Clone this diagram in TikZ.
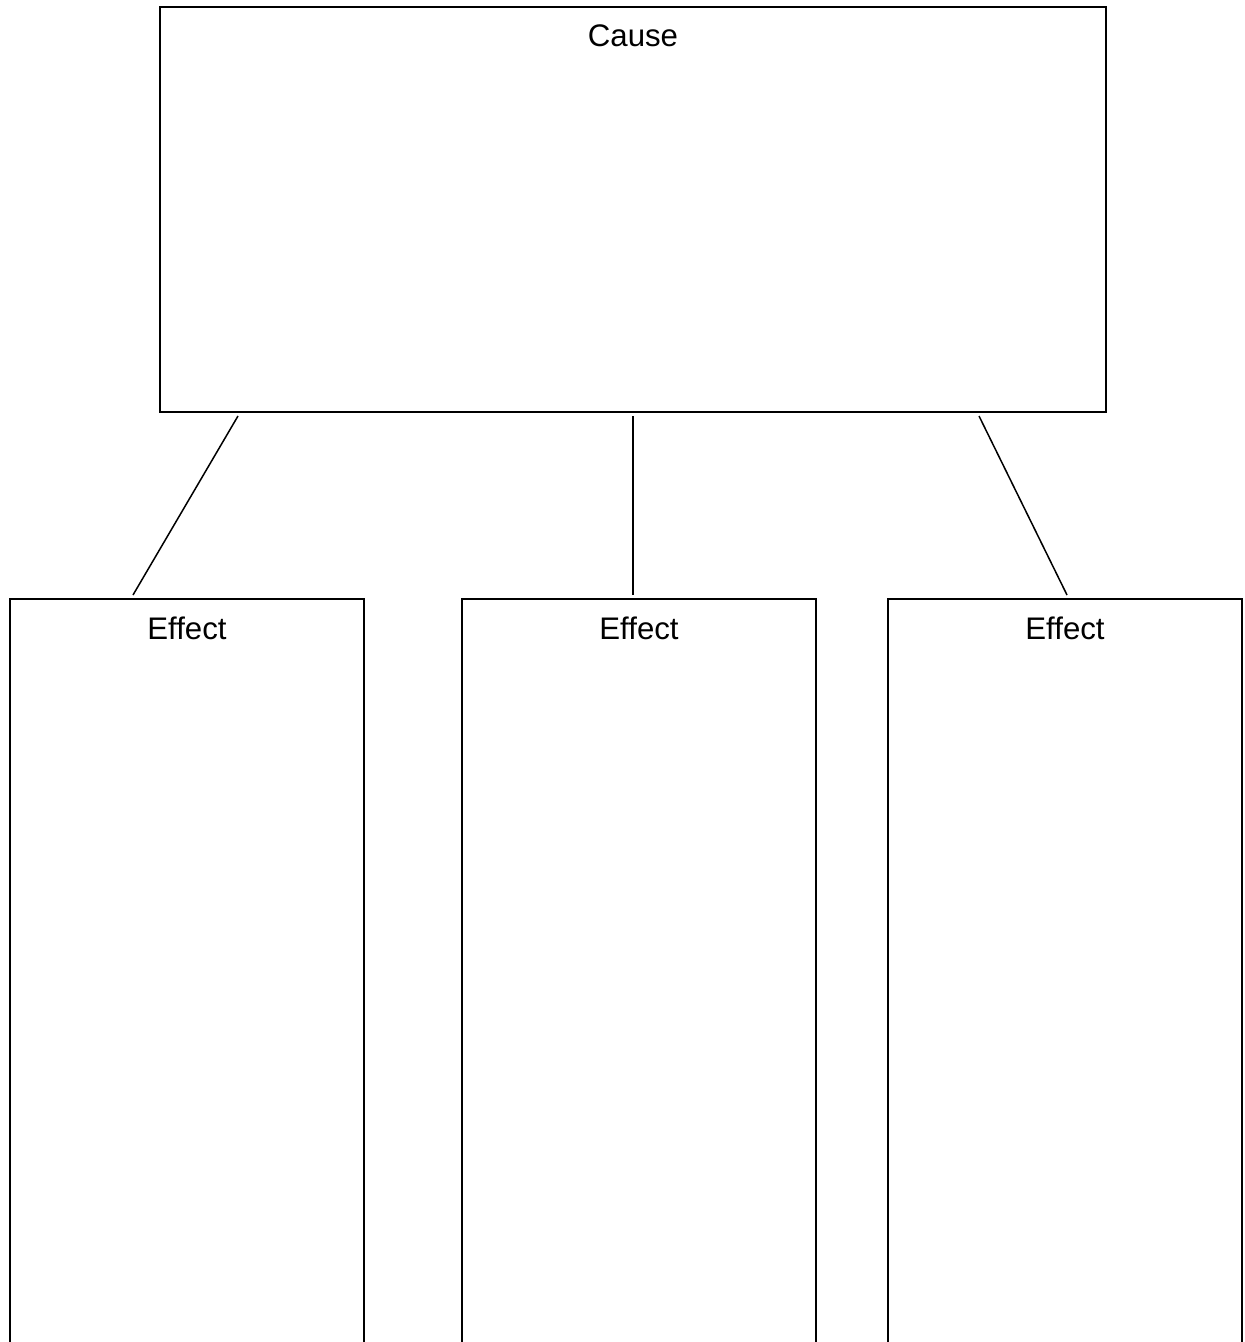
\documentclass[tikz,border=0pt]{standalone}
\usepackage{fontspec}
\setmainfont{Liberation Sans}
\usepackage{tikz}
\usetikzlibrary{positioning}
\tikzset{
    box/.style={
        draw,
        line width=1pt,
        rectangle,
        inner sep=0mm,
        outer sep=0mm,
        anchor=north
    },
    boxlabel/.style={
        anchor=base,
        inner sep=0mm,
        font=\fontsize{15.6}{18}\selectfont
    },
    link/.style={
        line width=0.75pt
    }
}

\begin{document}
\begin{tikzpicture}[x={(0.5pt,0pt)},y={(0pt,-0.5pt)}]
        \useasboundingbox (0,0) rectangle (1244,1342);
        \clip (0,0) rectangle (1244,1342);
        % draw cause box
        \node[box,minimum width=473pt,minimum height=202.5pt] (cause) at (633,7) {};
        \node[boxlabel] (cause label) at (633,47) {Cause};
        % draw effect boxes
        \foreach \i/\x in {1/187,2/639,3/1065} {
            \node[box,minimum width=177pt,minimum height=420pt] (effect\i) at (\x,599) {};
            \node[boxlabel] (effect\i label) at (\x,639) {Effect};
        }
        % draw links
        \draw[link] ([xshift=39pt,yshift=-2pt]cause.south west)
            -- ([xshift=61.5pt,yshift=2pt]effect1.north west);
        \draw[link] ([yshift=-2pt]cause.south)
            -- ([yshift=2pt]cause.south |- effect2.north);
        \draw[link] ([xshift=-63.5pt,yshift=-2pt]cause.south east)
            -- ([xshift=1pt,yshift=2pt]effect3.north);
\end{tikzpicture}
\end{document}
